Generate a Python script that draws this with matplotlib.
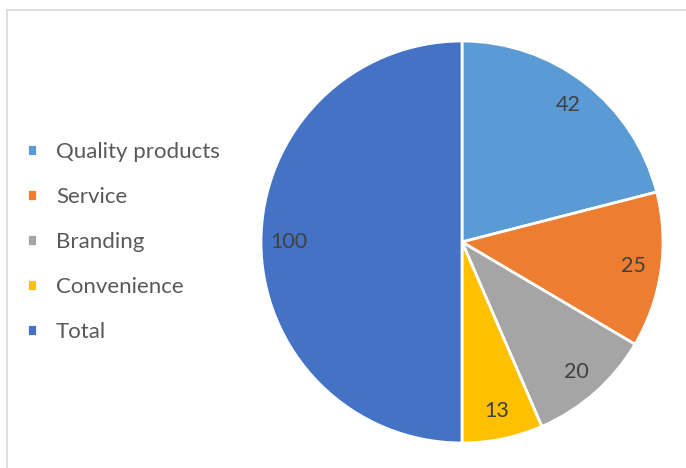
import matplotlib.pyplot as plt
from matplotlib.patches import Rectangle

labels = ["Quality products", "Service", "Branding", "Convenience", "Total"]
values = [42, 25, 20, 13, 100]
colors = ["#5B9BD5", "#ED7D31", "#A5A5A5", "#FFC000", "#4472C4"]

plt.rcParams['font.family'] = ['Lato', 'DejaVu Sans']

W, H = 686, 468
fig = plt.figure(figsize=(W / 100, H / 100), dpi=100)

# light grey chart border (only top/left visible in the crop)
fig.patches.append(Rectangle((7 / W, -0.1), 1.2, (H - 10) / H + 0.1,
                             transform=fig.transFigure, fill=False,
                             edgecolor="#D9D9D9", linewidth=1.2))

cx, cy, r = 462, 242, 201
ax = fig.add_axes([(cx - r) / W, (H - cy - r) / H, 2 * r / W, 2 * r / H])
wedges, texts = ax.pie(values, colors=colors, startangle=90, counterclock=False,
                       labels=[str(v) for v in values], labeldistance=0.86,
                       wedgeprops=dict(edgecolor="white", linewidth=2),
                       textprops=dict(color="#404040", fontsize=15.5))
for t in texts:
    t.set_ha("center")
    t.set_va("center")
ax.set_xlim(-1, 1)
ax.set_ylim(-1, 1)
ax.set_aspect("equal")

fig.legend(wedges, labels, loc="center left", bbox_to_anchor=(7 / W, (H - 242) / H),
           frameon=False, handlelength=0.45, handleheight=0.45, handletextpad=0.85,
           labelspacing=1.13, fontsize=16, labelcolor="#595959")

fig.savefig("out.png", dpi=100)
